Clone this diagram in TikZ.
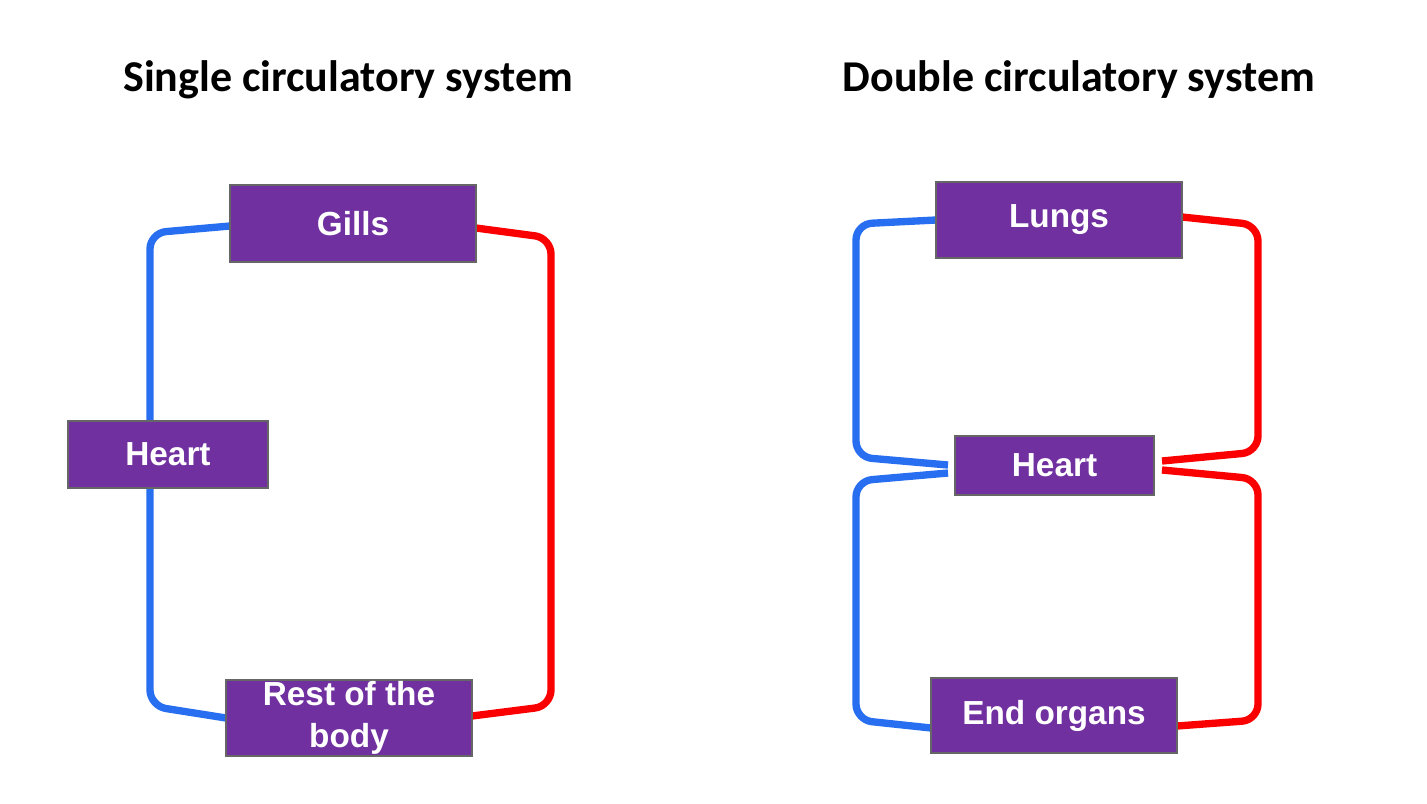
\documentclass[tikz,border=0pt]{standalone}
\usepackage{fontspec}
\setmainfont{Liberation Sans}
\newfontfamily\titlefont{Carlito}
\begin{document}
\begin{tikzpicture}[x=0.75pt,y=-0.75pt,
  box/.style={draw=black!60,line width=1.5pt,fill={rgb,255:red,112;green,48;blue,160},text=white,font=\fontsize{25}{30}\selectfont\bfseries,inner sep=0pt,align=center},
  ttl/.style={font=\titlefont\fontsize{33}{38}\selectfont\bfseries},
  bl/.style={draw={rgb,255:red,40;green,110;blue,240},line width=5.5pt,rounded corners=12pt},
  rd/.style={draw={rgb,255:red,250;green,0;blue,0},line width=5.5pt,rounded corners=12pt}]
\useasboundingbox (0,0) rectangle (1427,803);
\node[ttl] (t1) at (348,80) {Single circulatory system};
\node[ttl] (t2) at (1079,80) {Double circulatory system};
% left lines
\coordinate (lgw) at (230,226); \coordinate (lge) at (476,228);
\coordinate (lrw) at (226,718); \coordinate (lre) at (472,716);
\draw[bl] (lgw) -- (150,233) -- (150,706) -- (lrw);
\draw[rd] (lge) -- (551,238) -- (551,706) -- (lre);
% right lines
\coordinate (rlw) at (936,220); \coordinate (rle) at (1182,217);
\coordinate (rew) at (931,728); \coordinate (ree) at (1177,726);
\coordinate (hw1) at (948,465); \coordinate (hw2) at (948,473);
\coordinate (he1) at (1162,461); \coordinate (he2) at (1162,470);
\draw[bl] (rlw) -- (856,224) -- (856,457) -- (hw1);
\draw[bl] (hw2) -- (856,481) -- (856,720) -- (rew);
\draw[rd] (rle) -- (1258,225) -- (1258,452) -- (he1);
\draw[rd] (he2) -- (1258,479) -- (1258,720) -- (ree);
% boxes
\node[box,minimum width=246*0.75pt,minimum height=77*0.75pt] (gills) at (353,223.5) {Gills};
\node[box,minimum width=200*0.75pt,minimum height=67*0.75pt] (heartL) at (168,454.5) {Heart};
\node[box,minimum width=246*0.75pt,minimum height=76*0.75pt,font=\fontsize{25}{31}\selectfont\bfseries] (rest) at (349,718) {Rest of the\\body};
\node[box,minimum width=246*0.75pt,minimum height=76*0.75pt] (lungs) at (1059,220) {Lungs};
\node[box,minimum width=199*0.75pt,minimum height=59*0.75pt] (heartR) at (1054.5,465.5) {Heart};
\node[box,minimum width=246*0.75pt,minimum height=75*0.75pt] (end) at (1054,715.5) {End organs};
\end{tikzpicture}
\end{document}
